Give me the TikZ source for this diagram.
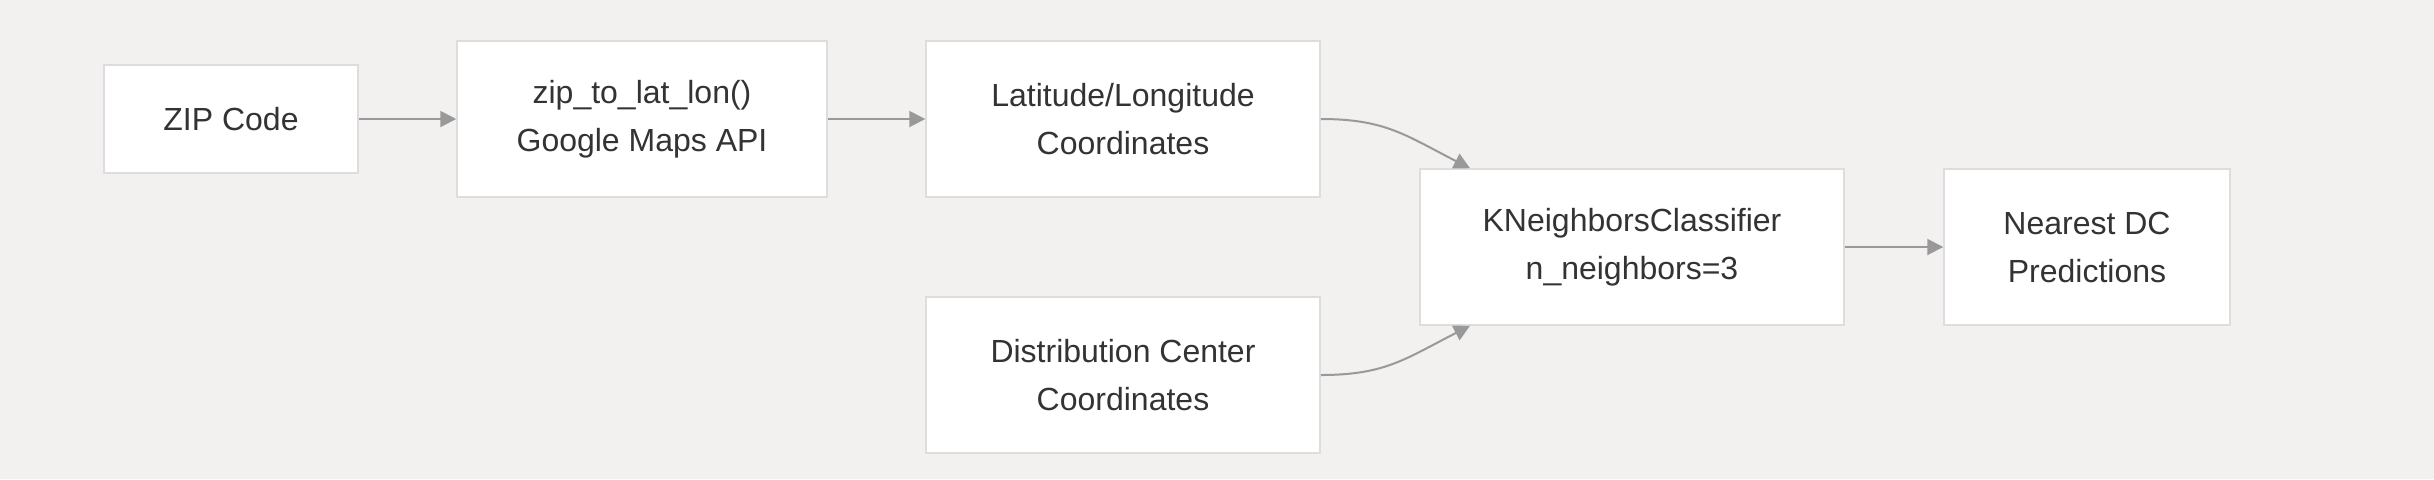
\documentclass[tikz,border=0pt]{standalone}
\usepackage{fontspec}
\setmainfont{Liberation Sans}
\usetikzlibrary{arrows.meta}
\definecolor{bgcol}{HTML}{F2F1EF}
\definecolor{boxline}{HTML}{DDDDDD}
\definecolor{flowcol}{HTML}{999999}
\definecolor{txtcol}{HTML}{333333}
\tikzset{
  box/.style={draw=boxline, line width=0.75pt, fill=white, inner sep=0pt,
    align=center, text=txtcol, font=\fontsize{16}{24}\selectfont},
  flow/.style={draw=flowcol, line width=1pt, -{Triangle[length=8pt, width=8pt]}}
}
\begin{document}
\begin{tikzpicture}[x=0.5pt, y=-0.5pt]
  \fill[bgcol] (0,0) rectangle (2434,479);
  \useasboundingbox (0,0) rectangle (2434,479);

  \node[box, minimum width=127pt, minimum height=54pt] (zip) at (231,119) {ZIP Code};
  \node[box, minimum width=185pt, minimum height=78pt] (geocode) at (642,119) {zip\_to\_lat\_lon()\\Google Maps API};
  \node[box, minimum width=197pt, minimum height=78pt] (latlon) at (1123,119) {Latitude/Longitude\\Coordinates};
  \node[box, minimum width=197pt, minimum height=78pt] (dccoords) at (1123,375) {Distribution Center\\Coordinates};
  \node[box, minimum width=212pt, minimum height=78pt] (knn) at (1632,247) {KNeighborsClassifier\\n\_neighbors=3};
  \node[box, minimum width=143pt, minimum height=78pt] (nearest) at (2087,247) {Nearest DC\\Predictions};

  \draw[flow] (zip) -- (geocode);
  \draw[flow] (geocode) -- (latlon);
  \draw[flow] (latlon.east) .. controls (1385,119) and (1405,135) .. ([xshift=-81pt]knn.north);
  \draw[flow] (dccoords.east) .. controls (1385,375) and (1405,359) .. ([xshift=-81pt]knn.south);
  \draw[flow] (knn) -- (nearest);
\end{tikzpicture}
\end{document}
